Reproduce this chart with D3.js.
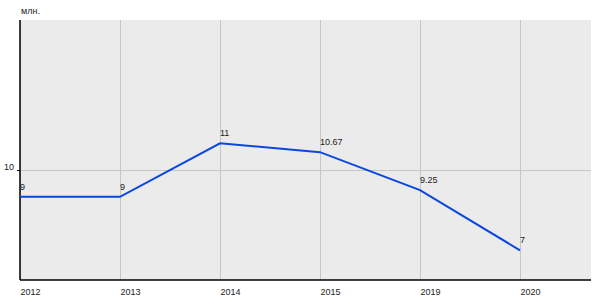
<!DOCTYPE html>
<html>
<head>
<meta charset="utf-8">
<script src="https://cdn.jsdelivr.net/npm/d3@7"></script>
<style>
  body { margin: 0; background: #fff; }
  svg { display: block; font-family: "Liberation Sans", Arial, sans-serif; }
</style>
</head>
<body>
<div class="container"></div>
<script>
// DATA
const years = ["2012", "2013", "2014", "2015", "2019", "2020"];
const values = [9, 9, 11, 10.67, 9.25, 7];
const valueLabels = ["9", "9", "11", "10.67", "9.25", "7"];
const yTicks = [10];
const unitLabel = "млн.";

// FRAME
const margin = { top: 20, right: 9, bottom: 20, left: 20 };
const width = 600 - margin.left - margin.right,
      height = 300 - margin.top - margin.bottom;

const svg = d3.select(".container")
  .append("svg")
  .attr("width", 600)
  .attr("height", 300);

const g = svg.append("g")
  .attr("transform", `translate(${margin.left}, ${margin.top})`);

// background
g.append("rect")
  .attr("width", width)
  .attr("height", height)
  .attr("fill", "#ebebeb");

// SCALES
const xScale = d3.scalePoint()
  .domain(years)
  .range([0, 500]);

const yScale = d3.scaleLinear()
  .domain([5.89, 15.61])
  .range([height, 0]);

// gridlines
g.selectAll(".vgrid")
  .data(years)
  .enter()
  .append("line")
  .attr("x1", d => xScale(d) + 0.5)
  .attr("x2", d => xScale(d) + 0.5)
  .attr("y1", 0)
  .attr("y2", height)
  .attr("stroke", "#c6c6c6")
  .attr("stroke-width", 1);

g.selectAll(".hgrid")
  .data(yTicks)
  .enter()
  .append("line")
  .attr("x1", 0)
  .attr("x2", width)
  .attr("y1", d => Math.round(yScale(d)) + 0.5)
  .attr("y2", d => Math.round(yScale(d)) + 0.5)
  .attr("stroke", "#c6c6c6")
  .attr("stroke-width", 1);

// AXES
const yAxis = d3.axisLeft(yScale)
  .tickValues(yTicks)
  .tickSize(3)
  .tickPadding(3);

g.append("g")
  .call(yAxis)
  .call(a => a.select(".domain").remove())
  .call(a => a.selectAll("text")
    .attr("font-size", 9)
    .attr("fill", "#222")
    .attr("dy", "-0.1em"))
  .call(a => a.selectAll("line").attr("stroke", "#000"));

const xAxis = d3.axisBottom(xScale)
  .tickSize(0)
  .tickPadding(9);

g.append("g")
  .attr("transform", `translate(0, ${height})`)
  .call(xAxis)
  .call(a => a.select(".domain").remove())
  .call(a => a.selectAll("text")
    .attr("font-size", 9)
    .attr("fill", "#222")
    .attr("text-anchor", "start"));

// axis lines
g.append("line")
  .attr("x1", 0).attr("x2", 0)
  .attr("y1", 0).attr("y2", height)
  .attr("stroke", "#000")
  .attr("stroke-width", 1.5);

g.append("line")
  .attr("x1", 0).attr("x2", width)
  .attr("y1", height).attr("y2", height)
  .attr("stroke", "#000")
  .attr("stroke-width", 1.5);

// unit label
svg.append("text")
  .attr("x", 21)
  .attr("y", 14)
  .attr("font-size", 9)
  .attr("fill", "#222")
  .text(unitLabel);

// LINE
const line = d3.line()
  .x((d, i) => xScale(years[i]))
  .y(d => yScale(d));

g.append("path")
  .datum(values)
  .attr("d", line)
  .attr("fill", "none")
  .attr("stroke", "#0a47e0")
  .attr("stroke-width", 2);

// value labels
g.selectAll(".vlabel")
  .data(values)
  .enter()
  .append("text")
  .attr("x", (d, i) => xScale(years[i]))
  .attr("y", d => yScale(d) - 7)
  .attr("font-size", 9)
  .attr("fill", "#222")
  .text((d, i) => valueLabels[i]);
</script>
</body>
</html>
